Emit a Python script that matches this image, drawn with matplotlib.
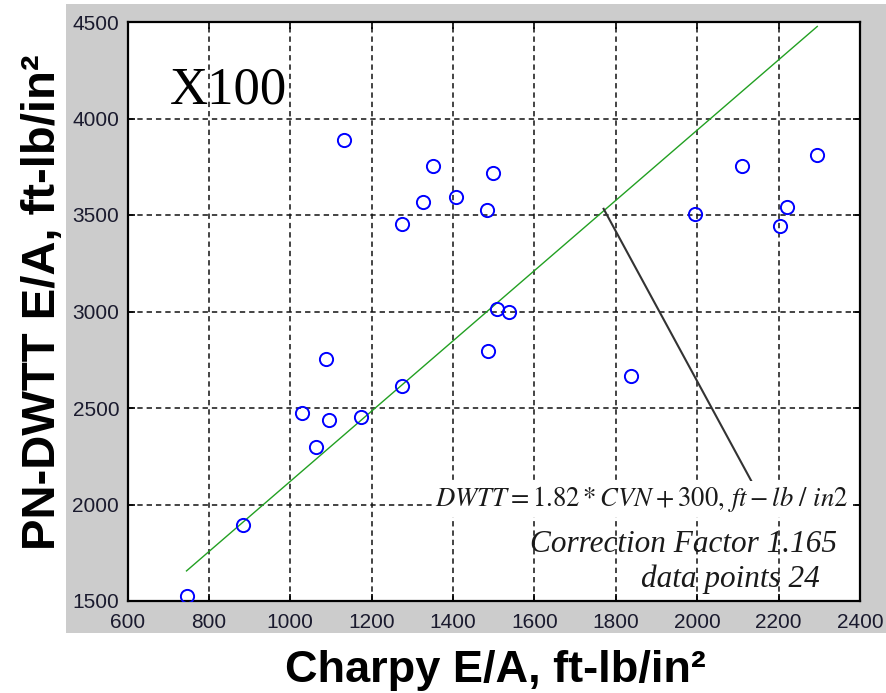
import matplotlib
matplotlib.use("Agg")
import matplotlib.pyplot as plt
from matplotlib.patches import Rectangle

# Charpy vs PN-DWTT energy per area, X100 pipe steel
charpy = [745, 883, 1028, 1062, 1087, 1095, 1133, 1174, 1274, 1274, 1325, 1350,
          1407, 1483, 1486, 1499, 1507, 1537, 1837, 1995, 2111, 2204, 2220, 2295]
dwtt = [1525, 1895, 2472, 2297, 2752, 2437, 3890, 2455, 2613, 3453, 3566, 3752,
        3593, 3524, 2797, 3717, 3015, 2998, 2665, 3505, 3752, 3443, 3539, 3812]

slope, intercept = 1.82, 300
leader_x = [1770, 2136]
leader_y = [3532, 2110]

xticks = list(range(600, 2401, 200))
yticks = list(range(1500, 4501, 500))

plt.rcParams["mathtext.fontset"] = "stix"

W, H = 886, 693
fig = plt.figure(figsize=(W / 100, H / 100), dpi=100)
fig.patch.set_facecolor("white")

# grey panel behind the axes
fig.patches.append(Rectangle((66 / W, 1 - 633 / H), 1 - 66 / W, (633 - 4) / H,
                             transform=fig.transFigure, facecolor="#cccccc",
                             edgecolor="none", zorder=-5))

ax = fig.add_axes([127.5 / W, 1 - 601 / H, (860 - 127.5) / W, (601 - 22) / H])
ax.set_zorder(2)
ax.set_facecolor("white")
ax.set_xlim(600, 2400)
ax.set_ylim(1500, 4500)
ax.set_xticks(xticks)
ax.set_yticks(yticks)

tick_font = dict(family="Liberation Sans", size=15)
ax.set_xticklabels([str(t) for t in xticks], fontdict=tick_font, color="#1a1a2e")
ax.set_yticklabels([str(t) for t in yticks], fontdict=tick_font, color="#1a1a2e")
ax.tick_params(direction="in", length=5, width=1.2, top=True, right=True,
               colors="black", labelcolor="#1a1a2e")
ax.tick_params(axis="x", pad=9)
ax.tick_params(axis="y", pad=6)
for s in ax.spines.values():
    s.set_linewidth(1.6)
    s.set_color("black")

ax.grid(True, color="#111111", linestyle=(0, (3.5, 2.6)), linewidth=1.1)
ax.set_axisbelow(True)

# regression line over the range of the data
x0, x1 = min(charpy), max(charpy)
ax.plot([x0, x1], [slope * x0 + intercept, slope * x1 + intercept],
        color="#22a022", linewidth=1.0, zorder=3)

ax.plot(charpy, dwtt, linestyle="none", marker="o", markersize=9.5,
        markerfacecolor="none", markeredgecolor="#0000ff", markeredgewidth=1.4,
        zorder=4)

ax.plot(leader_x, leader_y, color="#333333", linewidth=1.5, zorder=3)

ax.text(0.058, 0.860, "X100", transform=ax.transAxes, family="Liberation Serif",
        fontsize=38, ha="left", va="baseline", color="black", zorder=5)

ax.text(0.9836, 0.164, r"$DWTT = 1.82 * CVN + 300,\, ft - lb\ /\ in2$",
        transform=ax.transAxes, fontsize=19.2, ha="right", va="baseline",
        color="#1a1a1a", zorder=5,
        bbox=dict(facecolor="white", edgecolor="none", pad=2))

ax.text(0.9686, 0.0846, "Correction Factor 1.165", transform=ax.transAxes,
        family="Liberation Serif", style="italic", fontsize=22.5, ha="right",
        va="baseline", color="#1a1a1a", zorder=5)
ax.text(0.9454, 0.0242, "data points 24", transform=ax.transAxes,
        family="Liberation Serif", style="italic", fontsize=22.5, ha="right",
        va="baseline", color="#1a1a1a", zorder=5)

fig.text(495 / W, 1 - 682 / H, "Charpy E/A, ft-lb/in²", ha="center",
         va="baseline", family="Liberation Sans", weight="bold", size=32.5)
fig.text(55 / W, 1 - 302 / H, "PN-DWTT E/A, ft-lb/in²", rotation=90,
         rotation_mode="anchor", ha="center", va="baseline",
         family="Liberation Sans", weight="bold", size=34)

fig.savefig("out.png", dpi=100)
